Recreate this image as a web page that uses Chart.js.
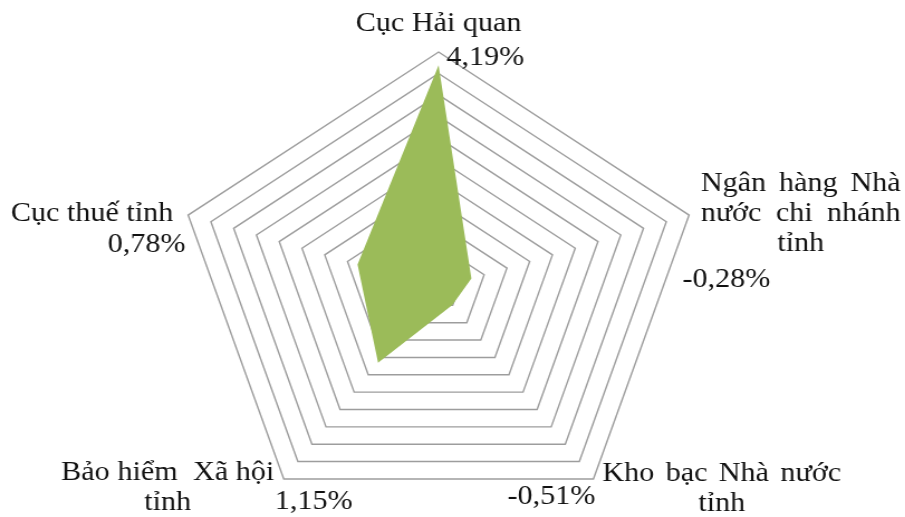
<!DOCTYPE html>
<html lang="vi">
<head>
<meta charset="utf-8">
<title>Tăng trưởng theo đơn vị</title>
<script src="https://cdn.jsdelivr.net/npm/chart.js@4/dist/chart.umd.min.js"></script>
<style>
  html, body { margin: 0; padding: 0; background: #ffffff; }
  #wrap { position: relative; width: 905px; height: 517px; overflow: hidden; background: #ffffff; }
  #chart { display: block; transform: scaleX(1.116); transform-origin: 0 0; }
</style>
</head>
<body>
<div id="wrap">
  <canvas id="chart" width="811" height="540"></canvas>
</div>
<script>
// Categories (one array of text lines per axis)
const categories = [
  ['Cục Hải quan'],
  ['Ngân hàng Nhà', 'nước chi nhánh', 'tỉnh'],
  ['Kho bạc Nhà nước', 'tỉnh'],
  ['Bảo hiểm  Xã hội', 'tỉnh'],
  ['Cục thuế tỉnh']
];

// Growth rate per unit, in percent
const growth = [4.19, -0.28, -0.51, 1.15, 0.78];

// Radial axis range and step between rings
const axisMin = -1;
const axisMax = 4.5;
const axisStep = 0.5;

// Where each category block and value text sit, relative to the outer vertex of its axis
const labelLayout = [
  { dx: 0,    dy: -21, box: 0 },
  { dx: 100,  dy: -24, box: 179 },
  { dx: 115,  dy: 2,   box: 214 },
  { dx: -104, dy: 1,   box: 191 },
  { dx: -86,  dy: 6,   box: 0 }
];
const valueLayout = [
  { dx: 7,   dy: 13 },
  { dx: -6,  dy: 72 },
  { dx: -77, dy: 25 },
  { dx: -8,  dy: 30 },
  { dx: -72, dy: 37 }
];

const FONT = '27px "Liberation Serif", "Times New Roman", serif';
const LINE_HEIGHT = 30;
const TEXT_COLOR = '#111111';

function formatPercent(v) {
  return v.toFixed(2).replace('.', ',') + '%';
}

// Draws one line either centred on cx, or justified across a box of given width
function drawLine(ctx, text, cx, y, box, justify) {
  if (!justify || !box) {
    ctx.textAlign = 'center';
    ctx.fillText(text, cx, y);
    return;
  }
  const words = text.split(' ');
  if (words.length < 2) {
    ctx.textAlign = 'center';
    ctx.fillText(text, cx, y);
    return;
  }
  const widths = words.map(w => ctx.measureText(w).width);
  const total = widths.reduce((a, b) => a + b, 0);
  const gap = (box - total) / (words.length - 1);
  let x = cx - box / 2;
  ctx.textAlign = 'left';
  words.forEach((w, i) => {
    if (w) ctx.fillText(w, x, y);
    x += widths[i] + gap;
  });
}

const axisText = {
  id: 'axisText',
  afterDraw(chart) {
    const scale = chart.scales.r;
    const ctx = chart.ctx;
    ctx.save();
    ctx.font = FONT;
    ctx.fillStyle = TEXT_COLOR;
    ctx.textBaseline = 'alphabetic';
    categories.forEach((lines, i) => {
      const p = scale.getPointPosition(i, scale.drawingArea);
      const lay = labelLayout[i];
      const cx = p.x + lay.dx;
      lines.forEach((line, k) => {
        const isLast = k === lines.length - 1;
        drawLine(ctx, line, cx, p.y + lay.dy + k * LINE_HEIGHT, lay.box, !isLast);
      });
      const v = valueLayout[i];
      ctx.textAlign = 'left';
      ctx.fillText(formatPercent(growth[i]), p.x + v.dx, p.y + v.dy);
    });
    ctx.restore();
  }
};

new Chart(document.getElementById('chart'), {
  type: 'radar',
  data: {
    labels: categories,
    datasets: [{
      data: growth,
      backgroundColor: '#9bbb59',
      borderColor: '#9bbb59',
      borderWidth: 0,
      pointRadius: 0,
      pointHoverRadius: 0,
      fill: 'start'
    }]
  },
  options: {
    responsive: false,
    devicePixelRatio: 1,
    animation: false,
    layout: { padding: { left: 157, right: 181, top: 52, bottom: 15 } },
    plugins: {
      legend: { display: false },
      tooltip: { enabled: false }
    },
    scales: {
      r: {
        min: axisMin,
        max: axisMax,
        ticks: { display: false, stepSize: axisStep },
        angleLines: { display: false },
        pointLabels: { display: false },
        grid: { color: '#9d9d9d', lineWidth: 1.4 }
      }
    }
  },
  plugins: [axisText]
});
</script>
</body>
</html>
